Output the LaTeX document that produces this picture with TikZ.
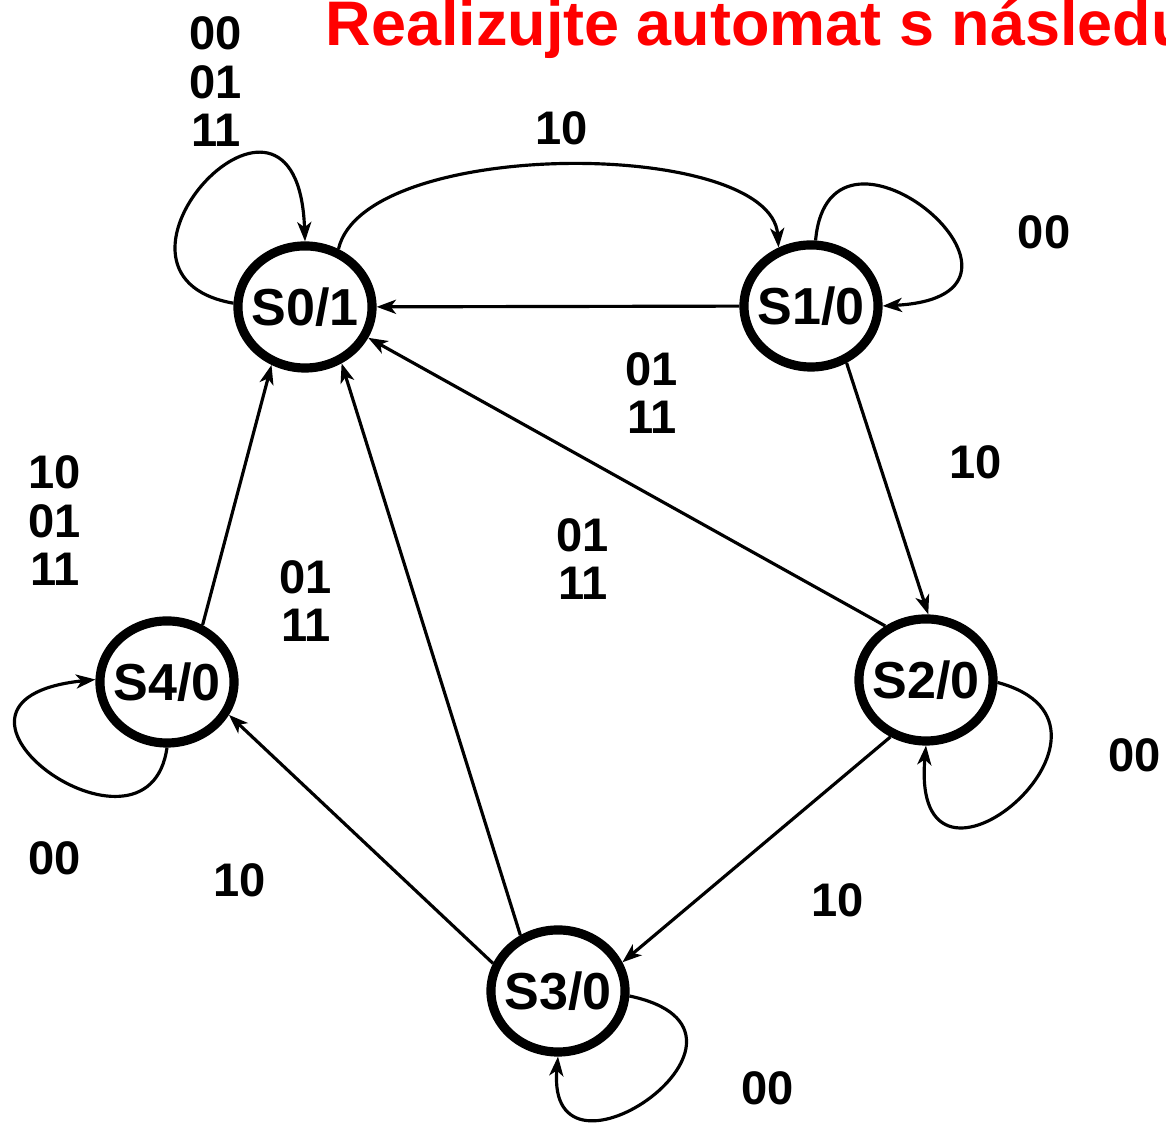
\documentclass[tikz,border=0pt]{standalone}
\usepackage{fontspec}
\setmainfont{Liberation Sans}
\usetikzlibrary{shapes,arrows,arrows.meta,positioning}

\begin{document}
\begin{tikzpicture}[x=0.01cm,y=0.01cm,
    state/.style={ellipse,draw,line width=2.6pt,minimum width=1.34cm,minimum height=1.22cm,inner xsep=-2pt,inner ysep=0pt,font=\fontsize{14.8}{15}\selectfont\bfseries},
    edge/.style={line width=0.9pt,-{Stealth[length=5.5pt,width=4pt,inset=1.5pt]}},
    lbl/.style={align=center,font=\fontsize{13.4}{13.8}\selectfont\bfseries}]
    \useasboundingbox (0,0) rectangle (1166,1134);
    \clip (0,0) rectangle (1166,1134);

    % title
    \node[anchor=base west,inner sep=0pt,red,font=\fontsize{17.9}{18}\selectfont\bfseries] (title) at (325,1088) {Realizujte automat s následujícím};

    % states
    \node[state] (s0) at (305,827) {S0/1};
    \node[state] (s1) at (811,828) {S1/0};
    \node[state] (s2) at (926,454) {S2/0};
    \node[state] (s3) at (558,143) {S3/0};
    \node[state] (s4) at (167,452) {S4/0};

    % self loops
    \draw[edge] (s0.177) .. controls +(170:165) and +(92:210) .. (s0.90);
    \draw[edge] (s1.86) .. controls +(85:155) and +(3:195) .. (s1.0);
    \draw[edge] (s2.-2) .. controls +(-15:165) and +(265:190) .. (s2.270);
    \draw[edge] (s3.-4) .. controls +(-12:170) and +(265:150) .. (s3.270);
    \draw[edge] (s4.270) .. controls +(262:135) and +(186:200) .. (s4.178);

    % transitions
    \draw[edge] (s0.60) .. controls +(77:115) and +(94:110) .. (s1.119);
    \draw[edge] (s1) -- (s0);
    \draw[edge] (s1.-58) -- (s2.88);
    \draw[edge] (s2.127) -- (s0.-26);
    \draw[edge] (s2.238) -- (s3.24);
    \draw[edge] (s3.124) -- (s0.-57);
    \draw[edge] (s3.157) -- (s4.-28);
    \draw[edge] (s4.58) -- (s0.240);

    % inputs
    \node[lbl] (l00) at (216,1052) {00\\01\\11};
    \node[lbl] (l01) at (562,1006) {10};
    \node[lbl] (l11) at (1044,902) {00};
    \node[lbl] (l10) at (652,741) {01\\11};
    \node[lbl] (l12) at (976,672) {10};
    \node[lbl] (l20) at (583,575) {01\\11};
    \node[lbl] (l40) at (55,613) {10\\01\\11};
    \node[lbl] (l30) at (306,533) {01\\11};
    \node[lbl] (l22) at (1135,379) {00};
    \node[lbl] (l23) at (838,234) {10};
    \node[lbl] (l44) at (55,276) {00};
    \node[lbl] (l34) at (240,254) {10};
    \node[lbl] (l33) at (768,46) {00};
\end{tikzpicture}
\end{document}
